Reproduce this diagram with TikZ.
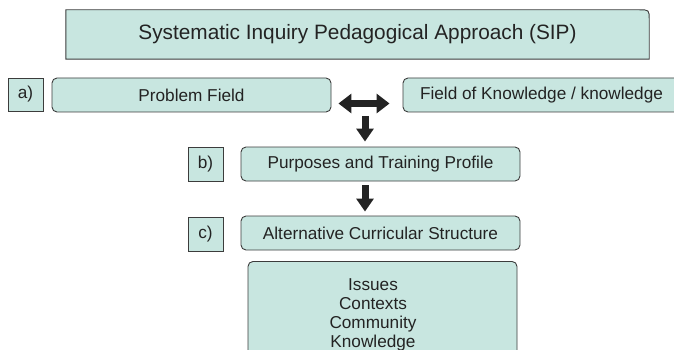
\documentclass[tikz,border=0pt]{standalone}
\usepackage{fontspec}
\setmainfont{Liberation Sans}
\usetikzlibrary{arrows.meta,calc}
\definecolor{boxfill}{RGB}{200,230,224}
\definecolor{boxline}{RGB}{60,60,60}
\definecolor{txt}{RGB}{35,35,35}
\begin{document}
\begin{tikzpicture}[x=1pt,y=-1pt,
  base/.style={fill=boxfill,draw=boxline,line width=0.9pt,inner sep=0pt,text=txt,font=\fontsize{17.2}{20}\selectfont},
  rbox/.style={base,rounded corners=5pt},
  lbox/.style={base},
  blockarrow/.style={draw=txt,line width=7pt,-{Triangle[length=13pt,width=17pt]}},
  dblarrow/.style={draw=txt,line width=7pt,{Triangle[length=13pt,width=19pt]}-{Triangle[length=13pt,width=19pt]}}]
\clip (0,0) rectangle (674,350);
% title
\node[inner sep=0pt,minimum width=583pt,minimum height=49pt] (t) at (357.5,34.5) {};
\filldraw[fill=boxfill,draw=boxline,line width=0.9pt] (t.south west) -- (t.north west) -- ([xshift=-10pt]t.north east) .. controls (t.north east) .. ([yshift=-10pt]t.north east) -- (t.south east) -- cycle;
\node[text=txt,font=\fontsize{20.8}{24}\selectfont] (tt) at (t.center) {Systematic Inquiry Pedagogical Approach (SIP)};
% row a
\node[lbox,minimum width=35pt,minimum height=33pt] (a) at (25.5,94.5) {a)};
\node[rbox,minimum width=279pt,minimum height=34pt] (pf) at (191.5,95) {Problem Field};
\node[rbox,minimum width=277pt,minimum height=34pt] (fok) at (541.5,95) {Field of Knowledge / knowledge};
% row b
\node[lbox,minimum width=35pt,minimum height=34pt] (b) at (205.5,164) {b)};
\node[rbox,minimum width=279pt,minimum height=34pt] (pur) at (380.5,164) {Purposes and Training Profile};
% row c
\node[lbox,minimum width=35pt,minimum height=34pt] (c) at (205.5,234) {c)};
\node[rbox,minimum width=279pt,minimum height=34pt] (alt) at (380.5,233) {Alternative Curricular Structure};
% bottom box
\node[rbox,minimum width=269pt,minimum height=110pt,anchor=north] (ick) at (382.5,261) {};
\node[align=center,text=txt,font=\fontsize{17.2}{19}\selectfont,anchor=north] (ickt) at (373,275) {Issues\\Contexts\\Community\\Knowledge};
% arrows
\coordinate (dl) at ($(pf.east |- 0,103.5)+(7,0)$);
\coordinate (dr) at ($(fok.west |- 0,103.5)+(-13,0)$);
\draw[dblarrow] (dl) -- (dr);
\coordinate (d1s) at (365,116);
\draw[blockarrow,shorten >=5pt] (d1s) -- (d1s |- pur.north);
\coordinate (d2s) at (365,185);
\draw[blockarrow,shorten >=4pt] (d2s) -- (d2s |- alt.north);
\end{tikzpicture}
\end{document}
